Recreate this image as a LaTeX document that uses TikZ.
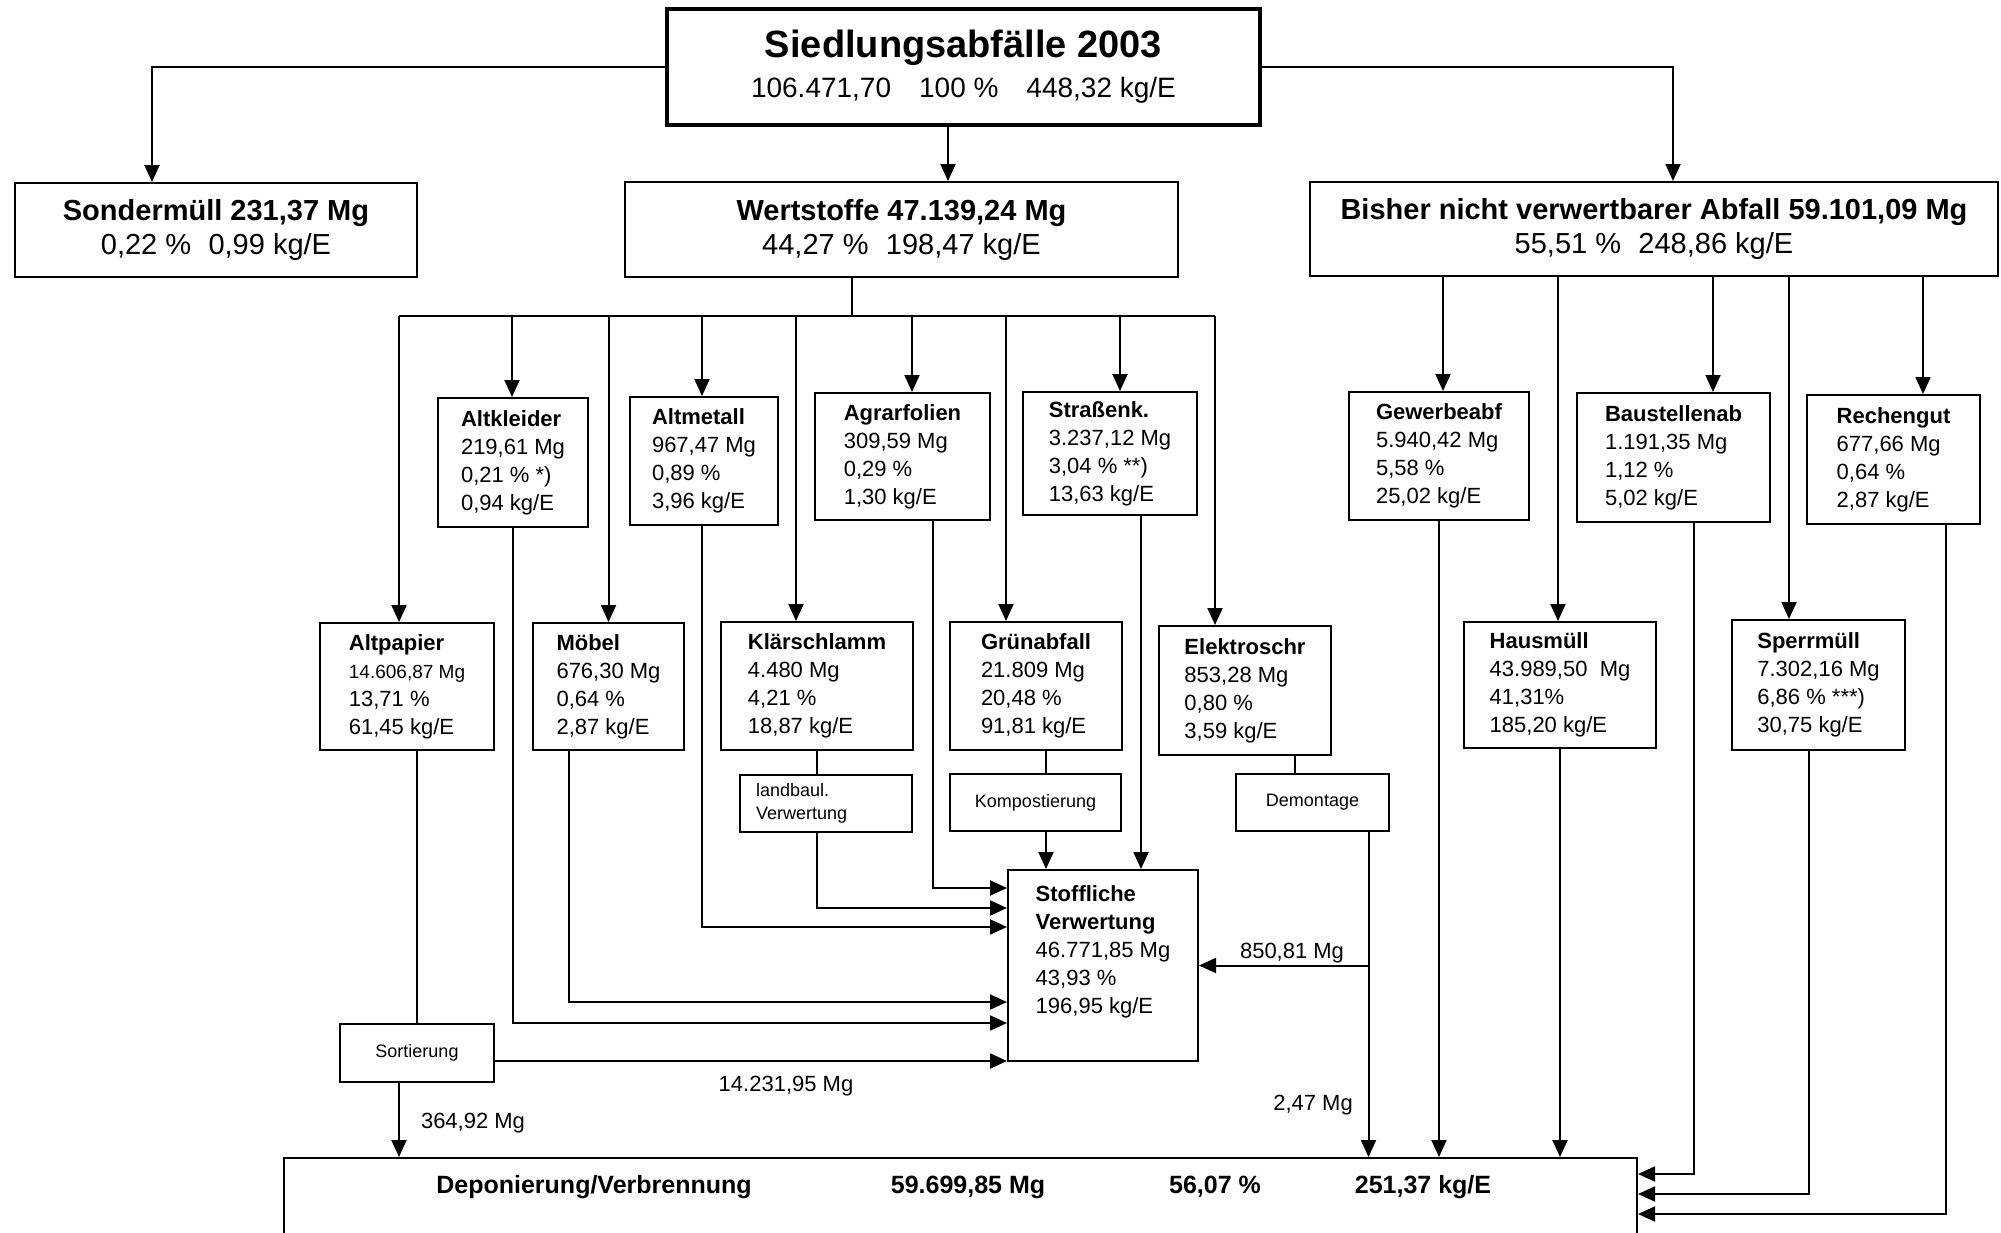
\documentclass[tikz,border=0pt]{standalone}
\usepackage{fontspec}
\setmainfont{Liberation Sans}
\usetikzlibrary{arrows.meta}

\begin{document}
\begin{tikzpicture}[x=0.5pt,y=-0.5pt]
	\tikzstyle{kopf} = [draw, line width=1pt, align=center, inner sep=2pt, font=\fontsize{14.5}{17}\selectfont]
	\tikzstyle{box} = [draw, line width=1pt, align=left, inner sep=2pt, font=\fontsize{11}{14}\selectfont]
	\tikzstyle{klein} = [draw, line width=1pt, align=left, inner sep=2pt, font=\fontsize{9}{11.5}\selectfont]
	\tikzstyle{menge} = [inner sep=1pt, font=\fontsize{11}{13}\selectfont]
	\tikzstyle{dv} = [inner sep=1pt, font=\fontsize{12.5}{14}\selectfont\bfseries]
	\tikzstyle{pfeil} = [line width=1pt, -{Triangle[length=8.5pt,width=7.5pt]}]
	\tikzstyle{linie} = [line width=1pt]
	\useasboundingbox (0,0) rectangle (2001,1232);

	\node[draw, line width=2pt, minimum width=296.5pt, minimum height=58pt, align=center, font=\fontsize{14}{20}\selectfont] (siedl) at (963.5,67) {{\fontsize{19}{20}\selectfont\bfseries Siedlungsabfälle 2003}\\106.471,70\hspace{1em}100 \%\hspace{1em}448,32 kg/E};
	\node[kopf, minimum width=201pt, minimum height=47pt] (sonder) at (216,230) {\textbf{Sondermüll 231,37 Mg}\\0,22 \%\hspace{0.6em}0,99 kg/E};
	\node[kopf, minimum width=276.5pt, minimum height=47.5pt] (werts) at (901.5,229.5) {\textbf{Wertstoffe 47.139,24 Mg}\\44,27 \%\hspace{0.6em}198,47 kg/E};
	\node[kopf, minimum width=344pt, minimum height=47pt] (bisher) at (1654,229) {\textbf{Bisher nicht verwertbarer Abfall 59.101,09 Mg}\\55,51 \%\hspace{0.6em}248,86 kg/E};

	\node[box, minimum width=75pt, minimum height=64.5pt] (kleider) at (513,462.5) {\textbf{Altkleider}\\219,61 Mg\\0,21 \% *)\\0,94 kg/E};
	\node[box, minimum width=74pt, minimum height=64pt] (metall) at (704,461) {\textbf{Altmetall}\\967,47 Mg\\0,89 \%\\3,96 kg/E};
	\node[box, minimum width=87.5pt, minimum height=63.5pt] (agrar) at (902.5,456.5) {\textbf{Agrarfolien}\\309,59 Mg\\0,29 \%\\1,30 kg/E};
	\node[box, minimum width=87pt, minimum height=61.5pt] (strasse) at (1110,453.5) {\textbf{Straßenk.}\\3.237,12 Mg\\3,04 \% **)\\13,63 kg/E};
	\node[box, minimum width=90pt, minimum height=64pt] (gewerbe) at (1439,456) {\textbf{Gewerbeabf}\\5.940,42 Mg\\5,58 \%\\25,02 kg/E};
	\node[box, minimum width=96.5pt, minimum height=64.5pt] (baust) at (1673.5,457.5) {\textbf{Baustellenab}\\1.191,35 Mg\\1,12 \%\\5,02 kg/E};
	\node[box, minimum width=86.5pt, minimum height=64.5pt] (rechen) at (1893.5,459.5) {\textbf{Rechengut}\\677,66 Mg\\0,64 \%\\2,87 kg/E};

	\node[box, minimum width=87pt, minimum height=63.5pt] (papier) at (407,686.5) {\textbf{Altpapier}\\{\fontsize{9.5}{14}\selectfont 14.606,87 Mg}\\13,71 \%\\61,45 kg/E};
	\node[box, minimum width=75.5pt, minimum height=63.5pt] (moebel) at (608.5,686.5) {\textbf{Möbel}\\676,30 Mg\\0,64 \%\\2,87 kg/E};
	\node[box, minimum width=96pt, minimum height=64pt] (klaer) at (817,686) {\textbf{Klärschlamm}\\4.480 Mg\\4,21 \%\\18,87 kg/E};
	\node[box, minimum width=86pt, minimum height=64pt] (gruen) at (1036,686) {\textbf{Grünabfall}\\21.809 Mg\\20,48 \%\\91,81 kg/E};
	\node[box, minimum width=86pt, minimum height=64.5pt] (elektro) at (1245,690.5) {\textbf{Elektroschr}\\853,28 Mg\\0,80 \%\\3,59 kg/E};
	\node[box, minimum width=96pt, minimum height=63pt] (haus) at (1560,685) {\textbf{Hausmüll}\\43.989,50\ \ Mg\\41,31\%\\185,20 kg/E};
	\node[box, minimum width=86.5pt, minimum height=65pt] (sperr) at (1818.5,685) {\textbf{Sperrmüll}\\7.302,16 Mg\\6,86 \% ***)\\30,75 kg/E};

	\node[klein, minimum width=86pt, minimum height=28.5pt, text width=70pt] (landb) at (826,803.5) {landbaul.\\Verwertung};
	\node[klein, minimum width=85.5pt, minimum height=28.5pt] (kompost) at (1035.5,802.5) {Kompostierung};
	\node[klein, minimum width=76.5pt, minimum height=28.5pt] (demont) at (1312.5,802.5) {Demontage};
	\node[klein, minimum width=77pt, minimum height=29pt] (sort) at (417,1053) {Sortierung};
	\node[box, minimum width=95pt, minimum height=95.5pt] (stoff) at (1103,965.5) {\textbf{Stoffliche}\\\textbf{Verwertung}\\46.771,85 Mg\\43,93 \%\\196,95 kg/E\\[2pt]~};

	\node[draw, line width=1pt, minimum width=676.5pt, minimum height=46pt] (depo) at (960.5,1204) {};
	\node[dv] (dvname) at (594,1187) {Deponierung/Verbrennung}; \node[dv] (dvmg) at (968,1187) {59.699,85 Mg}; \node[dv] (dvproz) at (1215,1187) {56,07 \%}; \node[dv] (dvkg) at (1423,1187) {251,37 kg/E};

	\node[menge] (m850) at (1292,953) {850,81 Mg}; \node[menge] (m247) at (1313,1105) {2,47 Mg}; \node[menge] (m14231) at (786,1086) {14.231,95 Mg}; \node[menge] (m364) at (473,1123) {364,92 Mg};

	\draw[pfeil] (siedl.west) -| ([xshift=-32pt]sonder.north); \draw[pfeil] (siedl.east) -| ([xshift=9.5pt]bisher.north); \draw[pfeil] ([xshift=-7.75pt]siedl.south) -- ([xshift=-7.75pt]siedl.south |- werts.north);

	\coordinate (wbus) at (0,316);
	\draw[linie] ([xshift=-24.75pt]werts.south) -- ([xshift=-24.75pt]werts.south |- wbus); \draw[linie] ([xshift=-4pt]papier.north |- wbus) -- ([xshift=-15pt]elektro.north |- wbus);
	\foreach \n/\s in {papier/-4pt, kleider/-0.5pt, moebel/0pt, metall/-1pt, klaer/-10.5pt, agrar/4.75pt, gruen/-15pt, strasse/5pt, elektro/-15pt}
		\draw[pfeil] ([xshift=\s]\n.north |- wbus) -- ([xshift=\s]\n.north);
	\foreach \n/\s in {gewerbe/2pt, haus/-1pt, baust/19.75pt, sperr/-14.75pt, rechen/14.75pt}
		\draw[pfeil] ([xshift=\s]\n.north |- bisher.south) -- ([xshift=\s]\n.north);

	\draw[pfeil] ([xshift=15pt]agrar.south) |- ([yshift=-9.5pt]stoff.north west); \draw[linie] (klaer.south) -- (klaer.south |- landb.north); \draw[pfeil] (klaer.south |- landb.south) |- ([yshift=-19.5pt]stoff.north west);
	\draw[pfeil] ([xshift=-1pt]metall.south) |- ([yshift=-29pt]stoff.north west); \draw[pfeil] ([xshift=-20pt]moebel.south) |- ([yshift=-66.5pt]stoff.north west); \draw[pfeil] (kleider.south) |- ([yshift=-77pt]stoff.north west);
	\draw[linie] ([xshift=5pt]papier.south) -- ([xshift=5pt]papier.south |- sort.north); \draw[pfeil] ([yshift=-4pt]sort.east) -- ([yshift=-4pt]sort.east -| stoff.west); \draw[pfeil] ([xshift=-9pt]sort.south) -- ([xshift=-9pt]sort.south |- depo.north);
	\draw[linie] ([xshift=5pt]gruen.south) -- ([xshift=5pt]gruen.south |- kompost.north); \draw[pfeil] ([xshift=5pt]gruen.south |- kompost.south) -- ([xshift=5pt]gruen.south |- stoff.north); \draw[pfeil] ([xshift=15.5pt]strasse.south) -- ([xshift=15.5pt]strasse.south |- stoff.north);
	\draw[linie] ([xshift=25pt]elektro.south) -- ([xshift=25pt]elektro.south |- demont.north);
	\coordinate (demab) at ([xshift=28pt]demont.south);
	\draw[pfeil] (demab) -- (demab |- depo.north); \draw[pfeil] (demab |- stoff.east) -- (stoff.east);
	\draw[pfeil] (gewerbe.south) -- (gewerbe.south |- depo.north); \draw[pfeil] (haus.south) -- (haus.south |- depo.north);
	\draw[pfeil] ([xshift=10pt]baust.south) |- ([yshift=-8.5pt]depo.north east); \draw[pfeil] ([xshift=-5pt]sperr.south) |- ([yshift=-18.5pt]depo.north east); \draw[pfeil] ([xshift=26pt]rechen.south) |- ([yshift=-28.5pt]depo.north east);
\end{tikzpicture}
\end{document}
